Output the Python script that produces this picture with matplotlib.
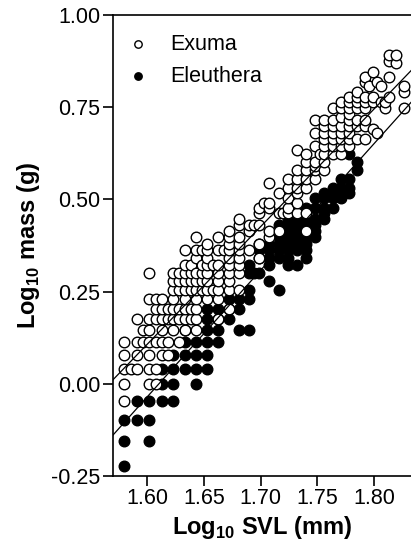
import numpy as np
import matplotlib
matplotlib.use("Agg")
import matplotlib.pyplot as plt

plt.rcParams['font.family'] = ['Liberation Sans', 'DejaVu Sans']
plt.rcParams['mathtext.fontset'] = 'custom'
plt.rcParams['mathtext.rm'] = 'Liberation Sans'
plt.rcParams['mathtext.bf'] = 'Liberation Sans:bold'

# ---- data: SVL (mm) and mass (g) ----
exuma_svl = (
    [38]*5 + [38.5] + [39]*4 + [39.5]*2 + [40]*8 + [40.5]*6 + [41]*6 + [41.5]*4 +
    [42]*7 + [42.5]*6 + [43]*9 + [43.5]*6 + [44]*10 + [44.5]*5 + [45]*8 + [45.5]*2 +
    [46]*8 + [46.5] + [47]*10 + [48]*9 + [49]*3 + [49.5] + [50]*5 + [50.5] + [51]*5 +
    [52]*3 + [52.5] + [53]*5 + [54]*7 + [55]*7 + [56]*7 + [56.5] + [57]*8 + [58]*7 +
    [59]*8 + [60]*9 + [61]*7 + [62]*8 + [62.5] + [63]*4 + [63.5]*2 + [64]*2 +
    [64.5]*2 + [65]*4 + [66]*2 + [67]*3
)
exuma_mass = (
    [0.9, 1.0, 1.1, 1.2, 1.3] + [1.1] + [1.1, 1.2, 1.3, 1.5] + [1.3, 1.4] +
    [1.0, 1.1, 1.2, 1.3, 1.4, 1.5, 1.7, 2.0] + [1.0, 1.1, 1.3, 1.5, 1.6, 1.7] +
    [1.2, 1.3, 1.4, 1.5, 1.6, 1.7] + [1.2, 1.3, 1.5, 1.6] +
    [1.4, 1.5, 1.6, 1.7, 1.8, 1.9, 2.0] + [1.3, 1.5, 1.6, 1.8, 1.9, 2.0] +
    [1.4, 1.5, 1.6, 1.7, 1.8, 1.9, 2.0, 2.1, 2.3] + [1.5, 1.6, 1.8, 1.9, 2.0, 2.1] +
    [1.4, 1.5, 1.6, 1.7, 1.8, 1.9, 2.0, 2.2, 2.3, 2.5] + [1.8, 1.9, 2.0, 2.1, 2.3] +
    [1.7, 1.8, 1.9, 2.0, 2.1, 2.2, 2.3, 2.4] + [1.8, 2.1] +
    [1.5, 1.7, 1.8, 1.9, 2.0, 2.1, 2.3, 2.5] + [2.3] +
    [1.6, 1.8, 1.9, 2.0, 2.1, 2.2, 2.3, 2.4, 2.5, 2.6] +
    [1.8, 2.0, 2.1, 2.2, 2.3, 2.4, 2.5, 2.7, 2.8] + [2.3, 2.6, 2.7] + [2.7] +
    [2.2, 2.4, 2.7, 2.9, 3.0] + [3.1] + [2.5, 2.6, 3.0, 3.1, 3.5] +
    [2.6, 2.9, 3.3] + [2.9] + [2.9, 3.0, 3.2, 3.4, 3.6] +
    [2.9, 3.1, 3.3, 3.4, 3.6, 3.8, 4.3] + [2.6, 2.9, 3.4, 3.6, 3.8, 4.0, 4.2] +
    [3.6, 3.8, 3.9, 4.0, 4.4, 4.8, 5.2] + [4.2] +
    [3.8, 4.0, 4.2, 4.4, 4.6, 4.8, 5.0, 5.2] + [4.2, 4.4, 4.6, 4.8, 5.0, 5.2, 5.6] +
    [4.2, 4.4, 4.6, 4.8, 5.0, 5.3, 5.6, 5.8] +
    [4.4, 4.6, 4.8, 5.0, 5.2, 5.4, 5.6, 5.8, 6.0] +
    [4.6, 5.0, 5.2, 5.6, 5.8, 6.0, 6.2] + [4.6, 5.0, 5.2, 5.6, 5.8, 6.0, 6.6, 6.8] +
    [6.4] + [4.9, 5.8, 6.0, 7.0] + [4.8, 6.6] + [5.8, 6.4] + [5.6, 5.8] +
    [6.0, 6.8, 7.5, 7.8] + [7.4, 7.8] + [5.6, 6.2, 6.4]
)

eleuthera_svl = (
    [38]*3 + [39]*2 + [40]*3 + [41]*3 + [42]*4 + [43]*4 + [44]*4 + [45]*6 + [46]*4 +
    [47]*3 + [48]*3 + [49]*5 + [49.5] + [50]*4 + [51]*5 + [52]*6 + [53]*8 + [54]*8 +
    [55]*7 + [56]*6 + [57]*5 + [58]*4 + [59]*4 + [60]*4 + [61]*2
)
eleuthera_mass = (
    [0.6, 0.7, 0.8] + [0.8, 0.9] + [0.7, 0.8, 0.9] + [0.9, 1.0, 1.1] +
    [0.9, 1.0, 1.1, 1.2] + [1.1, 1.2, 1.3, 1.4] + [1.0, 1.1, 1.2, 1.3] +
    [1.1, 1.2, 1.3, 1.4, 1.5, 1.6] + [1.3, 1.4, 1.5, 1.6] + [1.5, 1.6, 1.7] +
    [1.4, 1.6, 1.7] + [1.4, 1.7, 1.8, 2.0, 2.1] + [2.0] + [2.0, 2.2, 2.3, 2.4] +
    [1.9, 2.1, 2.2, 2.3, 2.4] + [1.8, 2.2, 2.3, 2.4, 2.5, 2.7] +
    [2.1, 2.2, 2.3, 2.4, 2.5, 2.6, 2.7, 2.8] + [2.1, 2.3, 2.4, 2.5, 2.6, 2.7, 2.8, 2.9] +
    [2.2, 2.3, 2.4, 2.5, 2.7, 2.8, 3.0] + [2.5, 2.6, 2.7, 2.8, 3.0, 3.2] +
    [2.8, 2.9, 3.0, 3.2, 3.3] + [3.0, 3.2, 3.3, 3.4] + [3.2, 3.3, 3.4, 3.6] +
    [3.3, 3.4, 3.6, 4.2] + [3.8, 4.0]
)

# regression lines (log10 SVL endpoints, log10 mass)
fit_x = [1.57, 1.8326]
exuma_fit = [0.011, 0.849]
eleuthera_fit = [-0.139, 0.763]

x_ticks = [1.60, 1.65, 1.70, 1.75, 1.80]
y_ticks = [-0.25, 0.00, 0.25, 0.50, 0.75, 1.00]

# ---- figure ----
fig = plt.figure(figsize=(4.11, 5.51), dpi=100)
ax = fig.add_axes([113/411, 1-476/551, 1-113/411, (476-15)/551])

ms = 58
ax.scatter(np.log10(eleuthera_svl), np.log10(eleuthera_mass), s=ms,
           facecolor='black', edgecolor='black', linewidth=1.0, zorder=2,
           label='Eleuthera')
ax.scatter(np.log10(exuma_svl), np.log10(exuma_mass), s=ms,
           facecolor='white', edgecolor='black', linewidth=1.0, zorder=3,
           label='Exuma')
ax.plot(fit_x, exuma_fit, color='black', lw=0.9, zorder=4)
ax.plot(fit_x, eleuthera_fit, color='black', lw=0.9, zorder=4)

ax.set_xlim(1.57, 1.8326)
ax.set_ylim(-0.25, 1.00)
ax.set_xticks(x_ticks)
ax.set_xticklabels([f"{v:.2f}" for v in x_ticks])
ax.set_yticks(y_ticks)
ax.set_yticklabels([f"{v:.2f}" for v in y_ticks])

for s in ['left', 'bottom', 'top']:
    ax.spines[s].set_linewidth(1.2)
ax.spines['right'].set_visible(False)
ax.tick_params(direction='out', length=7, width=1.2, labelsize=15.5, pad=2)

ax.set_xlabel(r'Log$_{\mathbf{10}}$ SVL (mm)', fontsize=17, fontweight='bold', labelpad=3)
ax.set_ylabel(r'Log$_{\mathbf{10}}$ mass (g)', fontsize=17, fontweight='bold', labelpad=7)

h, l = ax.get_legend_handles_labels()
ax.legend([h[1], h[0]], [l[1], l[0]], loc='upper left', frameon=False,
          fontsize=15.5, markerscale=0.7, handlelength=1.0, handletextpad=1.0,
          labelspacing=0.5, borderaxespad=0.0, borderpad=0.4,
          bbox_to_anchor=(0.02, 0.978))

fig.savefig('out.png', dpi=100)
